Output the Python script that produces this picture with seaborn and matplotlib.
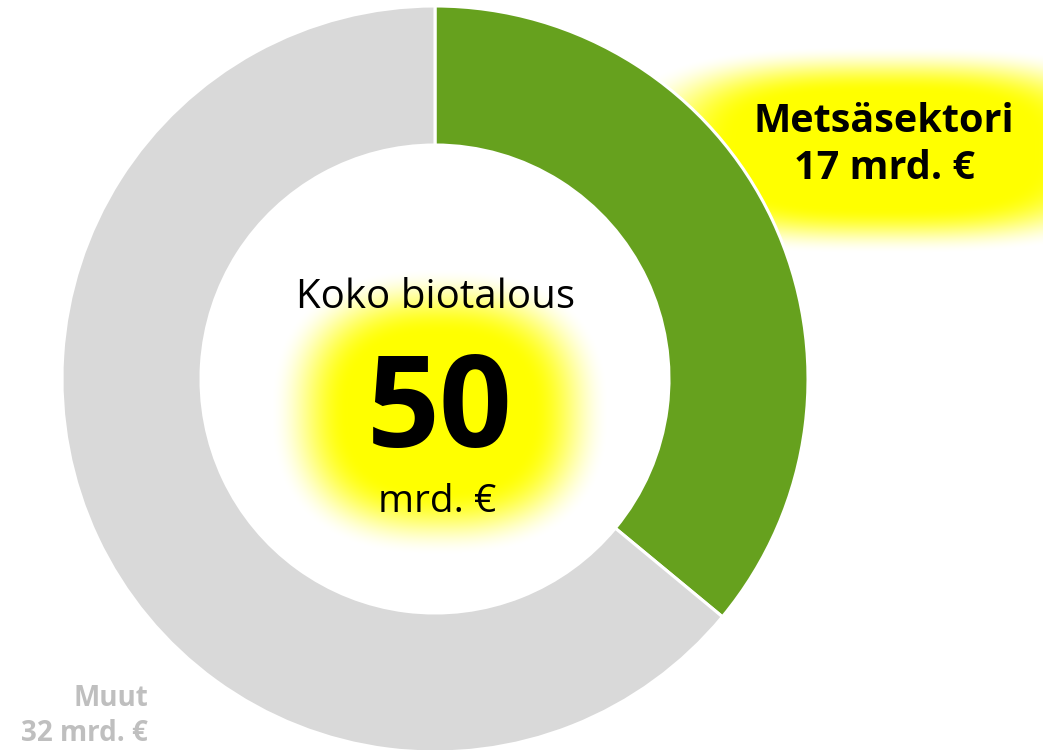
import matplotlib
matplotlib.use("Agg")
import numpy as np
import matplotlib.pyplot as plt
import seaborn as sns

sectors = ["Metsäsektori", "Muut"]
slice_values = [18, 32]
label_values = [17, 32]
total_value = 50
colors = ["#66A11E", "#D9D9D9"]

sns.set_theme(style="white")
plt.rcParams["font.family"] = ["Open Sans", "DejaVu Sans"]

W, H = 1043, 750
fig = plt.figure(figsize=(W / 100, H / 100), dpi=100)
ax = fig.add_axes([0, 0, 1, 1])

# soft yellow glow behind the highlighted labels
yy, xx = np.mgrid[0:H, 0:W] + 0.5


def glow_alpha(cx, cy, rx, ry, soft, p=4):
    d = (np.abs(xx - cx) / rx) ** p + (np.abs(yy - cy) / ry) ** p
    d = d ** (1 / p)
    t = np.clip((d - 1) / soft, 0, 1)
    return 1 - (3 * t ** 2 - 2 * t ** 3)


alpha = np.maximum(glow_alpha(885, 600, 150, 58, 0.8, p=3),
                   glow_alpha(440, 338, 92, 78, 0.85, p=2.5))
img = np.zeros((H, W, 4))
img[..., 0] = 1
img[..., 1] = 1
img[..., 3] = alpha
ax.imshow(img, extent=(0, W, 0, H), origin="lower", zorder=0, interpolation="bilinear")

wedges, _ = ax.pie(slice_values, colors=colors, startangle=90, counterclock=False,
                   radius=373, center=(435, 371), frame=True,
                   wedgeprops=dict(width=139, edgecolor="white", linewidth=2.2))
for w in wedges:
    w.set_zorder(1)
ax.set_xlim(0, W)
ax.set_ylim(0, H)
ax.set_aspect("equal")
ax.axis("off")

ax.text(884, 605, f"{sectors[0]}\n{label_values[0]} mrd. €", ha="center", va="center",
        fontsize=28.5, fontweight="bold", color="black", linespacing=1.25, zorder=3)

ax.text(148, 34, f"{sectors[1]}\n{label_values[1]} mrd. €", ha="right", va="center",
        fontsize=20, fontweight="bold", color="#BFBFBF", linespacing=1.3, zorder=3)

ax.text(436, 452, "Koko biotalous", ha="center", va="center", fontsize=29, color="black", zorder=3)
ax.text(440, 336, f"{total_value}", ha="center", va="center", fontsize=92,
        fontweight="bold", color="black", zorder=3)
ax.text(437, 248, "mrd. €", ha="center", va="center", fontsize=28, color="black", zorder=3)

fig.savefig("out.png", dpi=100)
